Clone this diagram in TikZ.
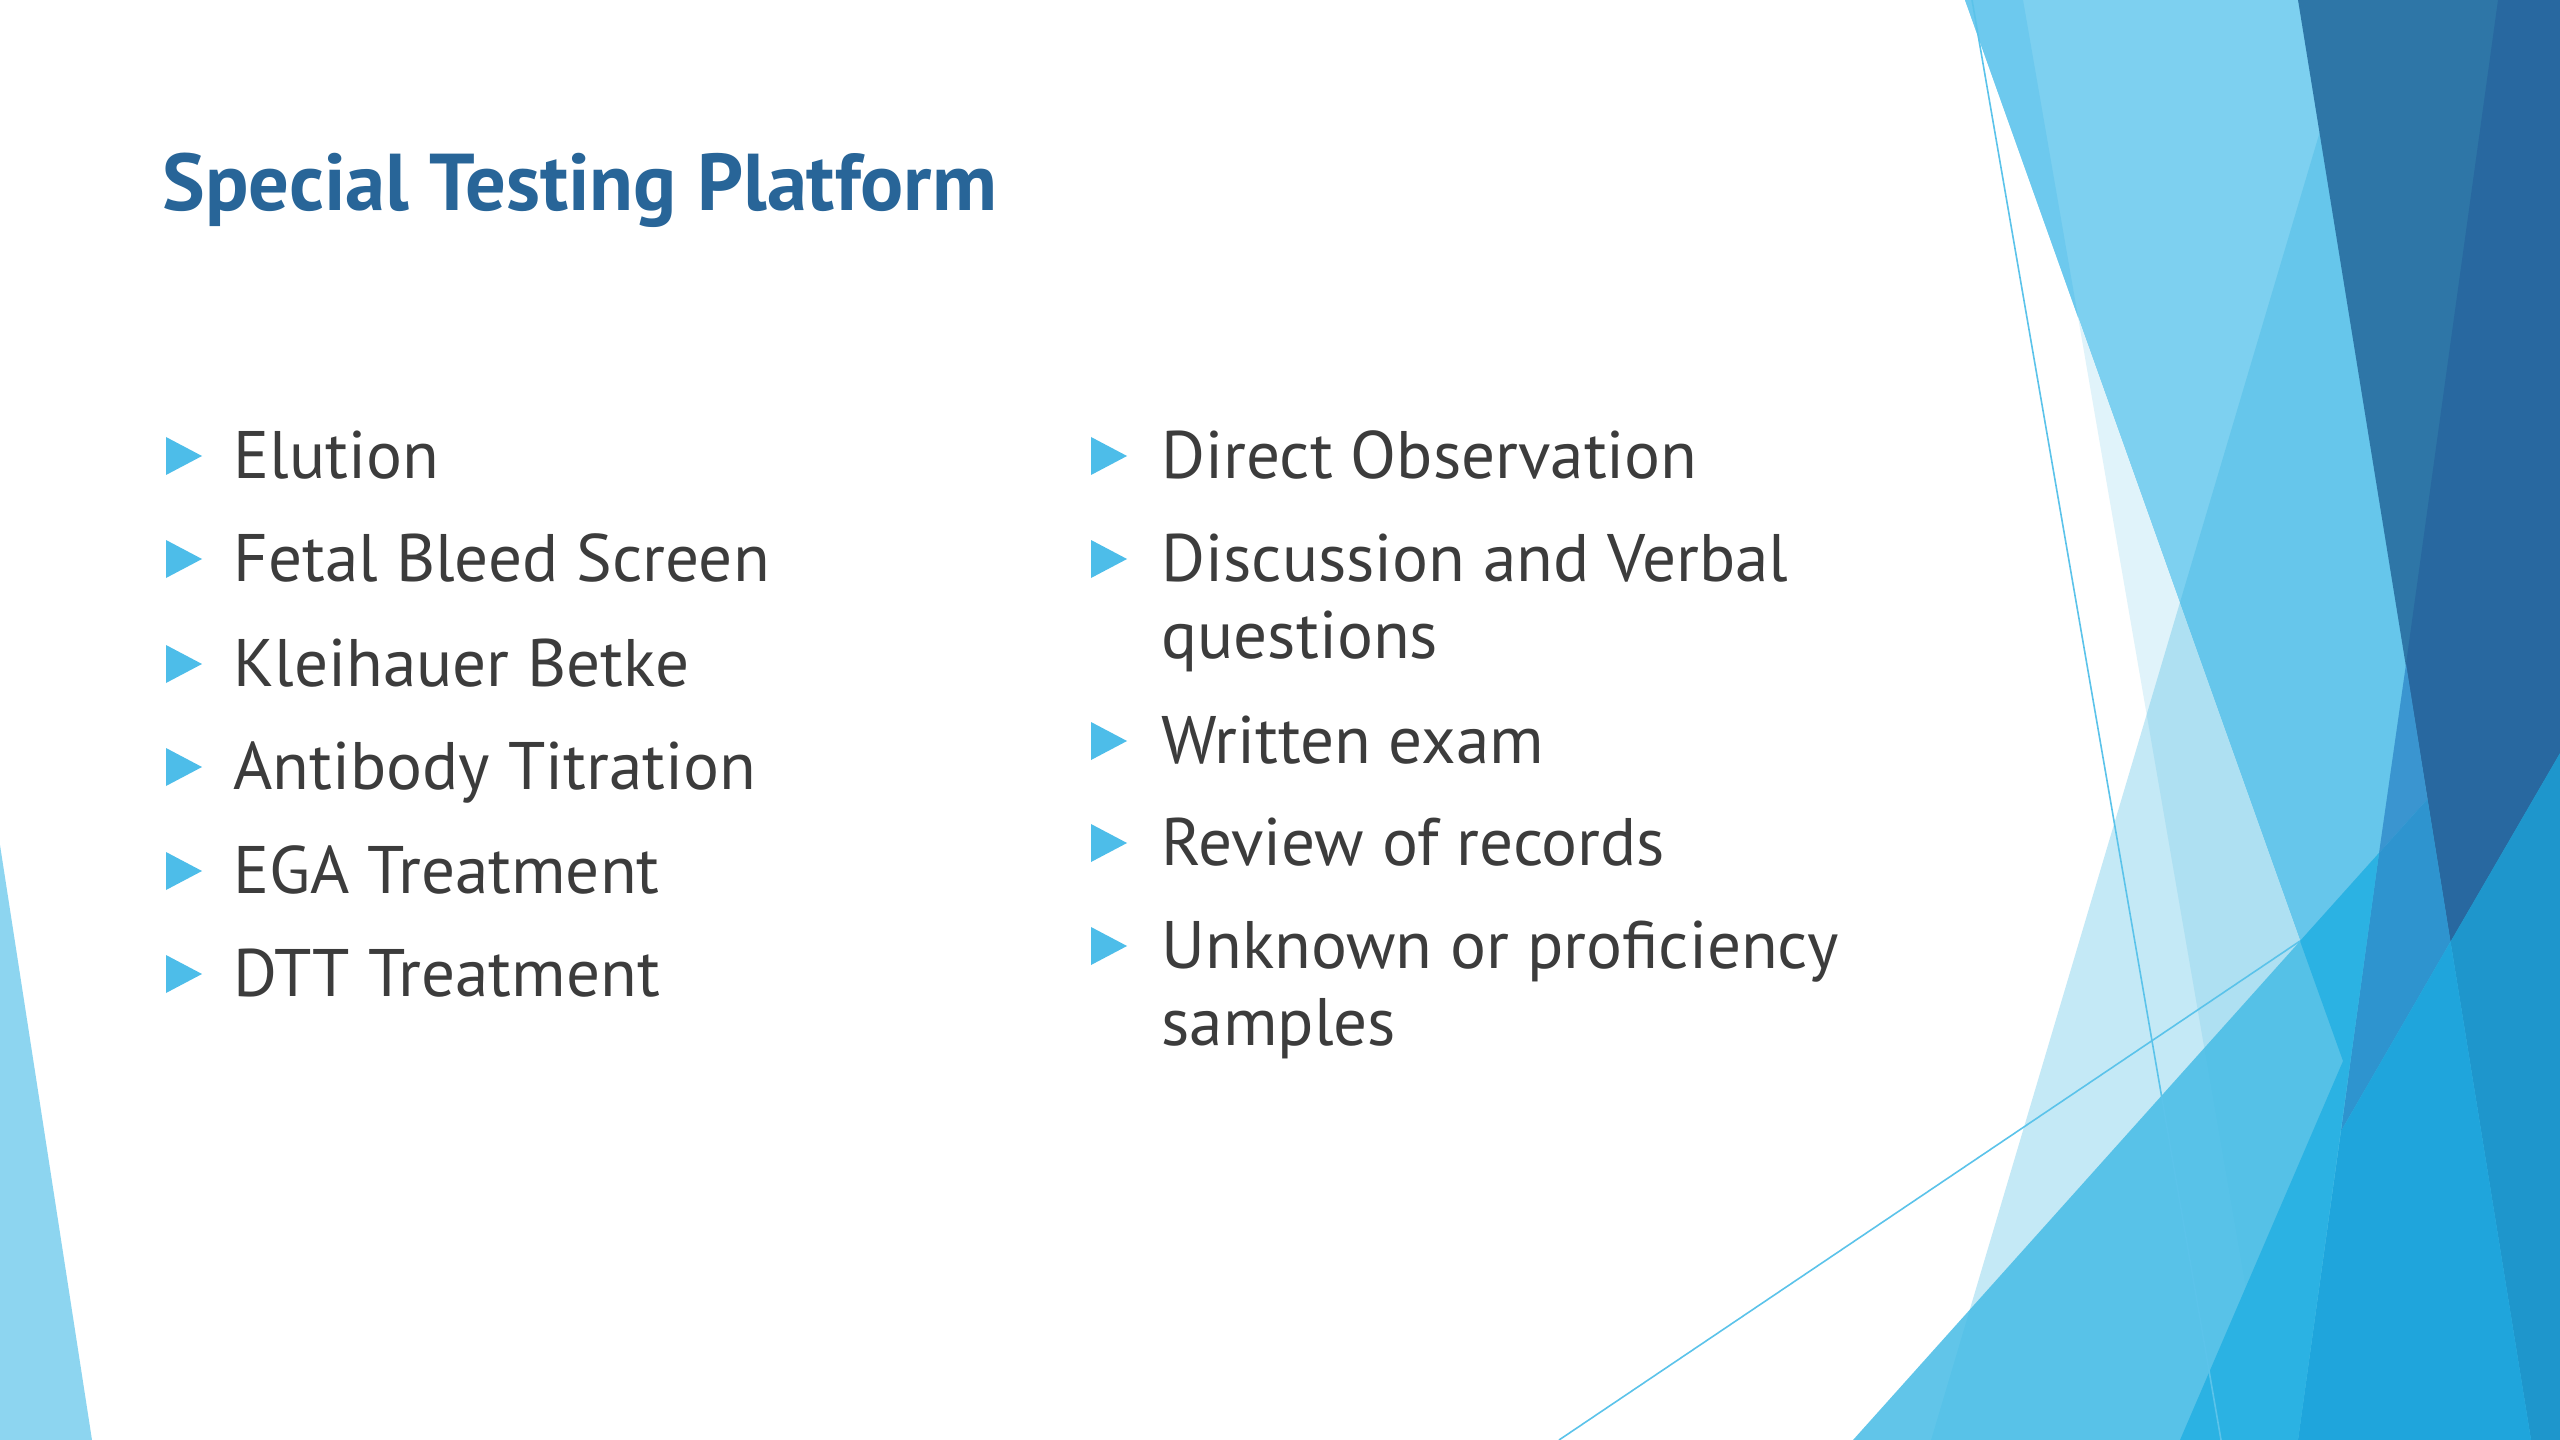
\documentclass[tikz,border=0pt]{standalone}
\usepackage{fontspec}
\setmainfont{PT Sans}
\definecolor{cP}{RGB}{125,208,240}
\definecolor{cBand}{RGB}{109,201,238}
\definecolor{cPale}{RGB}{224,243,250}
\definecolor{cQ}{RGB}{40,174,222}
\definecolor{cF}{RGB}{70,188,230}
\definecolor{cDarkA}{RGB}{46,118,167}
\definecolor{cDarkB}{RGB}{40,104,160}
\definecolor{cMidA}{RGB}{58,149,208}
\definecolor{cMidB}{RGB}{46,148,207}
\definecolor{cLowR}{RGB}{30,150,204}
\definecolor{cLowM}{RGB}{31,165,220}
\definecolor{cCyan}{RGB}{43,178,227}
\definecolor{cThin}{RGB}{91,195,234}
\definecolor{cSliver}{RGB}{141,213,240}
\definecolor{cTitle}{RGB}{40,101,152}
\definecolor{cText}{RGB}{60,60,60}
\definecolor{cBullet}{RGB}{77,189,233}
\tikzset{
  titletext/.style={anchor=base west, inner sep=0pt, text=cTitle, font=\fontsize{30.2}{36}\selectfont\bfseries},
  itemtext/.style={anchor=base west, inner sep=0pt, text=cText, font=\fontsize{25.2}{30}\selectfont},
  bulletmark/.style={fill=cBullet},
  thinline/.style={draw=cThin, line width=0.6pt}
}
\newcommand{\bul}[2]{\fill[bulletmark] (#1,#2-19) -- (#1+36,#2) -- (#1,#2+19) -- cycle;}
\begin{document}
\begin{tikzpicture}[x=0.375pt,y=-0.375pt]
\useasboundingbox (0,0) rectangle (2560,1440);
\fill[white] (0,0) rectangle (2560,1440);
% left sliver
\fill[cSliver] (0,845) -- (92,1440) -- (0,1440) -- cycle;
% right facets
\fill[cP] (1965,0) -- (2560,0) -- (2560,1440) -- (2478,1440) -- cycle;
\fill[cBand] (1965,0) -- (2023,0) -- (2078,317) -- cycle;
\fill[cPale] (2078,317) -- (2478,1440) -- (2272,1440) -- cycle;
\fill[cQ, opacity=0.27] (2359,0) -- (2560,0) -- (2560,1440) -- (1931,1440) -- cycle;
\fill[cF, opacity=0.85] (1853,1440) -- (2560,651) -- (2560,1440) -- cycle;
\fill[cDarkA] (2298,0) -- (2560,0) -- (2560,753) -- (2450.5,941.6) -- cycle;
\fill[cDarkB] (2498,0) -- (2560,0) -- (2560,753) -- (2450.5,941.6) -- (2406,664) -- cycle;
\fill[cMidA] (2406,664) -- (2427.5,799) -- (2379,853) -- cycle;
\fill[cMidB] (2379,853) -- (2427.5,799) -- (2450.5,941.6) -- (2341,1131) -- cycle;
\fill[cLowR] (2450.5,941.6) -- (2560,753) -- (2560,1440) -- (2531,1440) -- cycle;
\fill[cLowM] (2341,1131) -- (2450.5,941.6) -- (2531,1440) -- (2298,1440) -- cycle;
\fill[cCyan] (2300,941) -- (2379,853) -- (2298,1440) -- (2180,1440) -- (2343,1061) -- cycle;
\coordinate (t1a) at (1972,0);
\coordinate (t1b) at (2221,1440);
\coordinate (t2a) at (1559,1440);
\coordinate (t2b) at (2300,941);
\draw[thinline] (t1a) -- (t1b);
\draw[thinline] (t2a) -- (t2b);
% title
\node[titletext] (title) at (162,211) {Special Testing Platform};
% left column
\bul{166}{456}
\node[itemtext] (l1) at (233,478) {Elution};
\bul{166}{559}
\node[itemtext] (l2) at (233,581) {Fetal Bleed Screen};
\bul{166}{664}
\node[itemtext] (l3) at (233,686) {Kleihauer Betke};
\bul{166}{767}
\node[itemtext] (l4) at (233,789) {Antibody Titration};
\bul{166}{871}
\node[itemtext] (l5) at (233,893) {EGA Treatment};
\bul{166}{974}
\node[itemtext] (l6) at (233,996) {DTT Treatment};
% right column
\bul{1091}{456}
\node[itemtext] (r1) at (1161,478) {Direct Observation};
\bul{1091}{559}
\node[itemtext] (r2) at (1161,581) {Discussion and Verbal};
\node[itemtext] (r2b) at (1161,658) {questions};
\bul{1091}{741}
\node[itemtext] (r3) at (1161,763) {Written exam};
\bul{1091}{843}
\node[itemtext] (r4) at (1161,865) {Review of records};
\bul{1091}{946}
\node[itemtext] (r5) at (1161,968) {Unknown or proficiency};
\node[itemtext] (r5b) at (1161,1045) {samples};
\end{tikzpicture}
\end{document}
